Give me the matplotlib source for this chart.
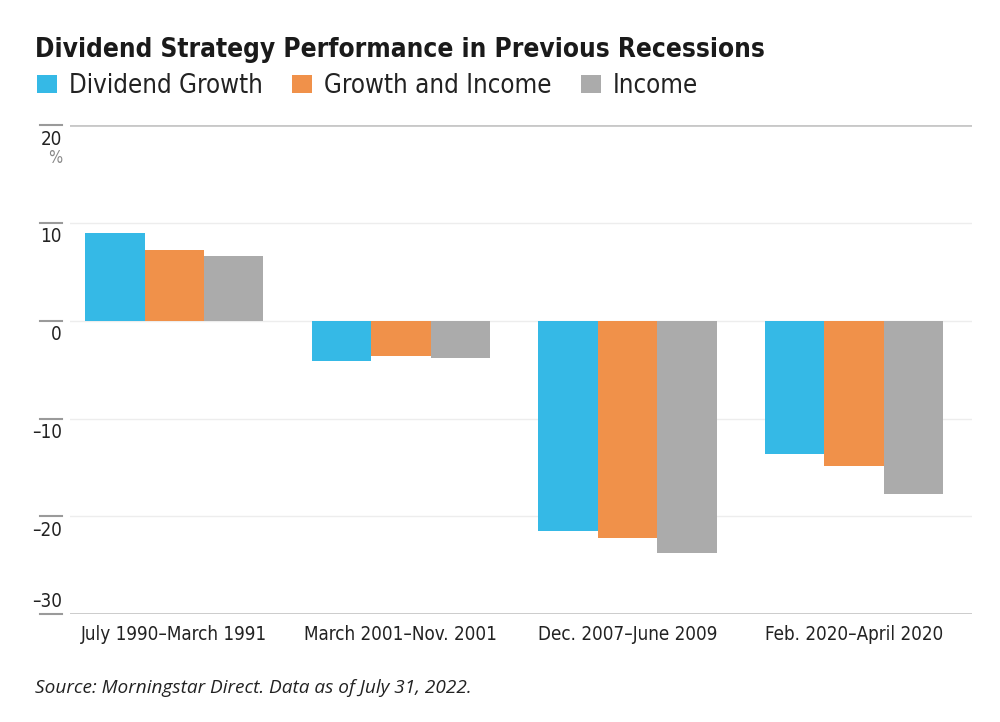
import numpy as np
import matplotlib
matplotlib.use("Agg")
import matplotlib.pyplot as plt

# data
periods = ["July 1990\u2013March 1991", "March 2001\u2013Nov. 2001",
           "Dec. 2007\u2013June 2009", "Feb. 2020\u2013April 2020"]
series_names = ["Dividend Growth", "Growth and Income", "Income"]
dividend_growth = [8.95, -4.1, -21.5, -13.6]
growth_income = [7.2, -3.6, -22.2, -14.85]
income = [6.6, -3.8, -23.7, -17.75]
y_ticks = [20, 10, 0, -10, -20, -30]
y_labels = ["20", "10", "0", "\u201310", "\u201320", "\u201330"]

colors = ["#35B9E6", "#F0914A", "#ABABAB"]
plt.rcParams['font.family'] = ["DejaVu Sans"]
plt.rcParams['font.stretch'] = "condensed"

fig = plt.figure(figsize=(10, 7.22), dpi=100)
ax = fig.add_axes([0.07, 0.1494, 0.902, 0.6773])

x = np.arange(len(periods))
width = 0.262
bars = []
for i, (vals, col) in enumerate(zip([dividend_growth, growth_income, income], colors)):
    b = ax.bar(x + (i - 1) * width, vals, width, color=col, label=series_names[i], zorder=3)
    bars.append(b)

ax.set_xlim(-0.46, 3.52)
ax.set_ylim(-30, 20)

# grid lines
for t in y_ticks:
    if t in (20, -30):
        ax.axhline(t, color="#C8C8C8", lw=2, zorder=1)
    else:
        ax.axhline(t, color="#EDEDED", lw=1, zorder=1)

for s in ax.spines.values():
    s.set_visible(False)
ax.set_yticks([])
ax.set_xticks(x)
ax.set_xticklabels(periods, fontsize=13.5, color="#222222")
ax.tick_params(axis='x', length=0, pad=8)

# left tick marks and labels
ytr = ax.get_yaxis_transform()
for t, lab in zip(y_ticks, y_labels):
    ax.plot([-0.0333, -0.0089], [t, t], transform=ytr, color="#9A9A9A", lw=1.5, clip_on=False)
    if t == -30:
        ax.text(-0.0089, t + 0.35, lab, transform=ytr, ha="right", va="bottom",
                fontsize=13.5, color="#222222")
    else:
        ax.text(-0.0089, t - 0.45, lab, transform=ytr, ha="right", va="top",
                fontsize=13.5, color="#222222")
ax.text(-0.0089, 17.6, "%", transform=ytr, ha="right", va="top", fontsize=12, color="#888888")

fig.text(0.035, 0.921, "Dividend Strategy Performance in Previous Recessions",
         fontsize=18.8, fontweight="bold", color="#1A1A1A", va="baseline")

fig.legend(handles=bars, labels=series_names, loc="upper left", bbox_to_anchor=(0.037, 0.899),
           ncol=3, frameon=False, fontsize=18.5, handlelength=0.78, handleheight=0.7,
           handletextpad=0.47, columnspacing=1.13, labelcolor="#222222", borderaxespad=0,
           borderpad=0)

fig.text(0.035, 0.04, "Source: Morningstar Direct. Data as of July 31, 2022.",
         fontsize=13.7, style="italic", family=["Open Sans", "DejaVu Sans"],
         stretch="normal", color="#222222")

fig.savefig("out.png", dpi=100)
